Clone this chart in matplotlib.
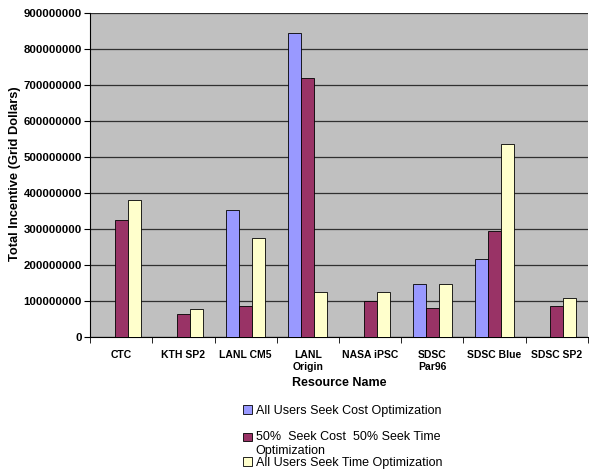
import numpy as np
import matplotlib
matplotlib.use('Agg')
import matplotlib.pyplot as plt
from matplotlib.patches import Patch, Rectangle
from matplotlib.legend_handler import HandlerPatch

plt.rcParams['font.family'] = ['Liberation Sans', 'DejaVu Sans']

resources = ['CTC', 'KTH SP2', 'LANL CM5', 'LANL\nOrigin', 'NASA iPSC',
             'SDSC\nPar96', 'SDSC Blue', 'SDSC SP2']
series_names = ['All Users Seek Cost Optimization',
                '50%  Seek Cost  50% Seek Time\nOptimization',
                'All Users Seek Time Optimization']
cost_opt = [0, 0, 354e6, 844e6, 0, 149e6, 218e6, 0]
mixed_opt = [326e6, 66e6, 86e6, 721e6, 102e6, 81e6, 296e6, 86e6]
time_opt = [381e6, 79e6, 276e6, 127e6, 127e6, 149e6, 538e6, 110e6]
colors = ['#9999FF', '#993366', '#FFFFCC']

fig = plt.figure(figsize=(5.89, 4.72), dpi=100)
ax = fig.add_axes([0.153, 0.285, 0.845, 0.687])
ax.set_facecolor('#C0C0C0')

x = np.arange(len(resources))
width = 0.21
for i, (vals, c) in enumerate(zip([cost_opt, mixed_opt, time_opt], colors)):
    ax.bar(x + (i - 1) * width, vals, width, color=c, edgecolor='black',
           linewidth=0.6, zorder=3)

ax.set_xlim(-0.5, len(resources) - 0.5)
ax.set_ylim(0, 900e6)
yt = np.arange(0, 900e6 + 1, 100e6)
ax.set_yticks(yt)
ax.set_yticklabels([f'{int(v)}' for v in yt], fontsize=8.2, fontweight='bold')
ax.yaxis.grid(True, color='#303030', linewidth=0.9, zorder=1)

# category labels centred, ticks on the boundaries between groups
ax.set_xticks(x)
ax.set_xticklabels(resources, fontsize=7.5, fontweight='bold', va='top')
ax.tick_params(axis='x', length=0, pad=9)
ax.set_xticks(np.arange(-0.5, len(resources), 1.0), minor=True)
ax.tick_params(axis='x', which='minor', length=4, direction='out')
ax.tick_params(axis='y', length=4, direction='out', pad=2)

for side in ['top', 'right']:
    ax.spines[side].set_visible(False)
ax.spines['left'].set_linewidth(0.8)
ax.spines['bottom'].set_linewidth(0.8)

ax.set_ylabel('Total Incentive (Grid Dollars)', fontsize=9.3, fontweight='bold')
ax.yaxis.set_label_coords(-0.139, 0.505)
ax.set_xlabel('Resource Name', fontsize=9, fontweight='bold', labelpad=4)


def top_line_square(legend, orig_handle, xdescent, ydescent, width, height,
                    fontsize):
    # put the swatch next to the first line of a two-line label
    return Rectangle((-xdescent, -ydescent + 0.55 * fontsize), width, height)


handles = [Patch(facecolor=c, edgecolor='black', linewidth=0.6) for c in colors]
leg_kw = dict(frameon=False, fontsize=9, handlelength=0.7, handleheight=0.7,
              handletextpad=0.3, borderpad=0, borderaxespad=0)
fig.legend(handles[:1], series_names[:1], loc='upper left',
           bbox_to_anchor=(0.413, 0.142), **leg_kw)
fig.legend(handles[1:], series_names[1:], loc='upper left',
           bbox_to_anchor=(0.413, 0.087), labelspacing=0.0,
           handler_map={handles[1]: HandlerPatch(patch_func=top_line_square)},
           **leg_kw)

fig.savefig('out.png', dpi=100)
